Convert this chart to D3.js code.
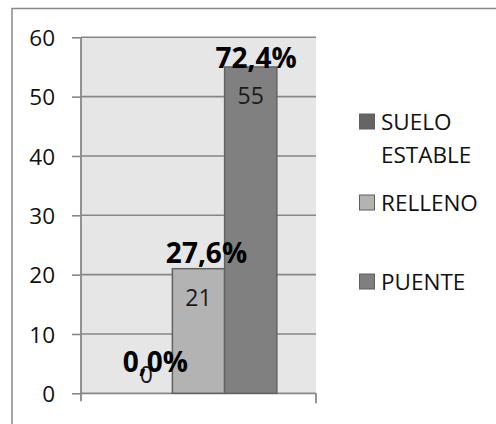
<!DOCTYPE html>
<html>
<head>
<meta charset="utf-8">
<script src="https://cdn.jsdelivr.net/npm/d3@7"></script>
<style>
  body { margin: 0; background: #fff; }
  svg text { font-family: "Open Sans", sans-serif; }
</style>
</head>
<body>
<svg id="chart" width="496" height="424"></svg>
<script>
// data
var series = ["PUENTE", "RELLENO", "SUELO ESTABLE"];
var values = [0, 21, 55];
var barColors = ["#7f7f7f", "#b3b3b3", "#808080"];
var legendColors = ["#7f7f7f", "#b3b3b3", "#656565"];
var yTicks = [0, 10, 20, 30, 40, 50, 60];

var svg = d3.select("#chart");
var plotLeft = 81, plotRight = 316, plotTop = 37.3, plotBottom = 393.3;

// outer frame
svg.append("rect")
  .attr("x", 12).attr("y", 8.5)
  .attr("width", 520).attr("height", 440)
  .attr("fill", "#fff").attr("stroke", "#888").attr("stroke-width", 1.5);

// plot background
svg.append("rect")
  .attr("x", plotLeft).attr("y", plotTop)
  .attr("width", plotRight - plotLeft).attr("height", plotBottom - plotTop)
  .attr("fill", "#e6e6e6");

var y = d3.scaleLinear().domain([0, 60]).range([plotBottom, plotTop]);
var x0 = d3.scaleBand().domain(["all"]).range([plotLeft, plotRight]).paddingInner(0).paddingOuter(0.25);
var x1 = d3.scaleBand().domain(series).range([0, x0.bandwidth()]);

// gridlines
svg.append("g").selectAll("line")
  .data(yTicks.filter(function(d) { return d > 0; }))
  .enter().append("line")
  .attr("x1", plotLeft).attr("x2", plotRight)
  .attr("y1", function(d) { return y(d); }).attr("y2", function(d) { return y(d); })
  .attr("stroke", "#878787").attr("stroke-width", 1.6);

// y axis
var yAxis = svg.append("g")
  .attr("transform", "translate(" + plotLeft + ",0)")
  .call(d3.axisLeft(y).tickValues(yTicks).tickSize(9).tickPadding(17));
yAxis.select(".domain").remove();
yAxis.selectAll(".tick line").attr("stroke", "#878787").attr("stroke-width", 1.6);
yAxis.selectAll("text")
  .attr("font-family", "Open Sans").attr("font-size", 22.5).attr("fill", "#111")
  .attr("dy", "0.36em");
svg.append("line")
  .attr("x1", plotLeft).attr("x2", plotLeft).attr("y1", plotTop).attr("y2", plotBottom + 8)
  .attr("stroke", "#878787").attr("stroke-width", 1.8);

// x axis
svg.append("line")
  .attr("x1", plotLeft).attr("x2", plotRight).attr("y1", plotBottom).attr("y2", plotBottom)
  .attr("stroke", "#878787").attr("stroke-width", 1.8);
svg.append("line")
  .attr("x1", plotRight).attr("x2", plotRight).attr("y1", plotBottom).attr("y2", plotBottom + 10)
  .attr("stroke", "#878787").attr("stroke-width", 1.8);

// bars
var bars = svg.append("g").attr("transform", "translate(" + x0("all") + ",0)");
bars.selectAll("rect")
  .data(values)
  .enter().append("rect")
  .attr("x", function(d, i) { return x1(series[i]); })
  .attr("y", function(d) { return y(d); })
  .attr("width", x1.bandwidth())
  .attr("height", function(d) { return plotBottom - y(d); })
  .attr("fill", function(d, i) { return barColors[i]; })
  .attr("stroke", function(d) { return d > 0 ? "#626262" : "none"; })
  .attr("stroke-width", 1.5);

// value labels inside the bar ends
bars.selectAll(".val")
  .data(values)
  .enter().append("text")
  .attr("class", "val")
  .attr("x", function(d, i) { return x1(series[i]) + x1.bandwidth() / 2; })
  .attr("y", function(d) { return Math.min(y(d) + 37.5, plotBottom - 10); })
  .attr("text-anchor", "middle")
  .attr("font-size", 23).attr("fill", "#1a1a1a")
  .text(function(d) { return d; });

// percentage labels
var total = d3.sum(values);
var pctNudge = [[9, -21], [8, -6], [5.5, 1.5]];
bars.selectAll(".pct")
  .data(values)
  .enter().append("text")
  .attr("class", "pct")
  .attr("x", function(d, i) { return x1(series[i]) + x1.bandwidth() / 2 + pctNudge[i][0]; })
  .attr("y", function(d, i) { return y(d) + pctNudge[i][1]; })
  .attr("text-anchor", "middle")
  .attr("font-family", "Liberation Sans").attr("font-weight", "bold")
  .attr("font-size", 28).attr("fill", "#000")
  .text(function(d) { return (d / total * 100).toFixed(1).replace(".", ",") + "%"; });

// legend (reverse order)
var legendRows = [
  { i: 2, lines: ["SUELO", "ESTABLE"], y: 114 },
  { i: 1, lines: ["RELLENO"], y: 195 },
  { i: 0, lines: ["PUENTE"], y: 274 }
];
var legend = svg.append("g");
legendRows.forEach(function(r) {
  legend.append("rect")
    .attr("x", 359.5).attr("y", r.y)
    .attr("width", 15).attr("height", 15)
    .attr("fill", legendColors[r.i]).attr("stroke", "#5f5f5f").attr("stroke-width", 1);
  var t = legend.append("text")
    .attr("x", 381).attr("y", r.y + 15.5)
    .attr("font-size", 22.5).attr("fill", "#111");
  r.lines.forEach(function(l, k) {
    t.append("tspan").attr("x", 381).attr("dy", k === 0 ? 0 : 33).text(l);
  });
});
</script>
</body>
</html>
